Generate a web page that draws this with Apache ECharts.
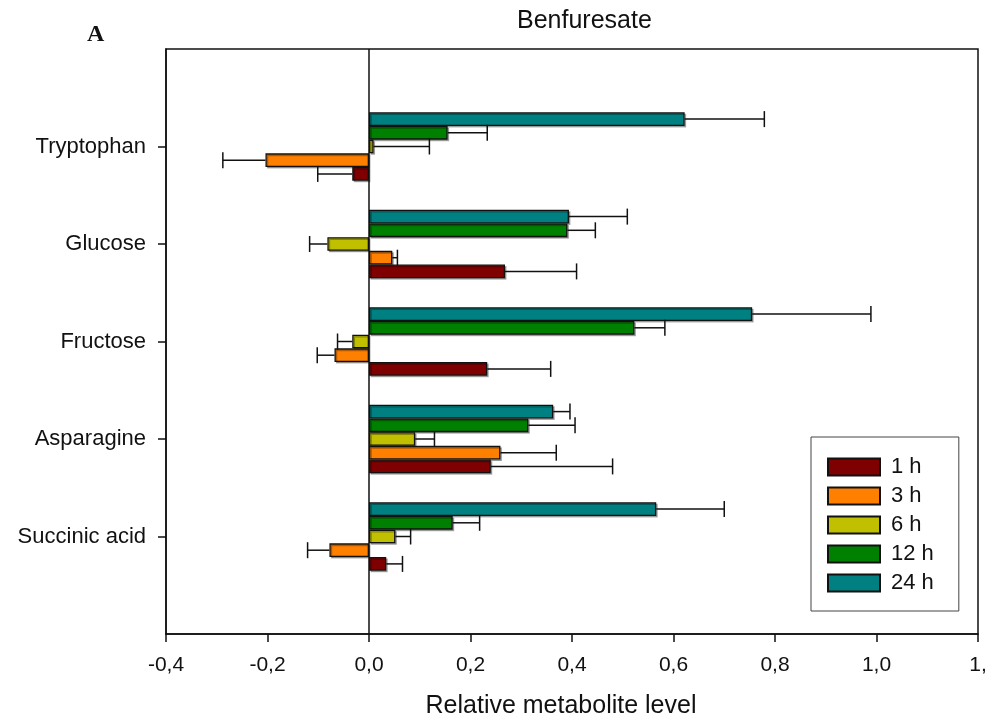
<!DOCTYPE html>
<html>
<head>
<meta charset="utf-8">
<title>Benfuresate</title>
<script src="https://cdn.jsdelivr.net/npm/echarts@6/dist/echarts.min.js"></script>
<style>
    html, body { margin: 0; padding: 0; background: #fff; }
    #main { width: 995px; height: 720px; }
</style>
</head>
<body>
<div id="main"></div>
<script>
// categories, bottom to top
var metabolites = ['Succinic acid', 'Asparagine', 'Fructose', 'Glucose', 'Tryptophan'];
var timeNames = ['1 h', '3 h', '6 h', '12 h', '24 h'];
var timeColors = ['#7f0000', '#ff8000', '#c0c000', '#008000', '#008080'];

// relative levels, same order as metabolites
var level1h = [0.034, 0.240, 0.233, 0.268, -0.033];
var level3h = [-0.078, 0.259, -0.068, 0.046, -0.204];
var level6h = [0.052, 0.091, -0.033, -0.082, 0.009];
var level12h = [0.165, 0.314, 0.523, 0.391, 0.155];
var level24h = [0.566, 0.363, 0.755, 0.394, 0.622];

// error bar lengths (one sided, away from zero)
var err1h = [0.032, 0.240, 0.125, 0.141, 0.068];
var err3h = [0.043, 0.110, 0.034, 0.010, 0.084];
var err6h = [0.030, 0.038, 0.029, 0.035, 0.110];
var err12h = [0.053, 0.092, 0.060, 0.055, 0.078];
var err24h = [0.134, 0.033, 0.234, 0.115, 0.157];

var xTicks = ['-0,4', '-0,2', '0,0', '0,2', '0,4', '0,6', '0,8', '1,0', '1,'];

var levels = [level1h, level3h, level6h, level12h, level24h];
var errors = [err1h, err3h, err6h, err12h, err24h];

var BAR_H = 13.7;
var CAP_H = 16;
var FONT = 'Liberation Sans, Arial, sans-serif';

// empty slot below and above so the groups sit like the original
var yCats = [''].concat(metabolites).concat(['']);

var myChart = echarts.init(document.getElementById('main'), null, { renderer: 'canvas' });

var series = [];
// bars: last time point first so that 24 h ends up on top of each group
for (var k = levels.length - 1; k >= 0; k--) {
    series.push({
        name: timeNames[k],
        type: 'bar',
        data: [null].concat(levels[k]).concat([null]),
        barWidth: BAR_H,
        barGap: '0%',
        itemStyle: {
            color: timeColors[k],
            borderColor: '#111',
            borderWidth: 1.3,
            shadowColor: 'rgba(0,0,0,0.3)',
            shadowOffsetX: 1.5,
            shadowOffsetY: 1.5
        },
        silent: true,
        z: 2
    });
}

levels.forEach(function (vals, k) {
    var errData = vals.map(function (v, i) {
        return [v, i + 1, errors[k][i]];
    });
    series.push({
        type: 'custom',
        data: errData,
        silent: true,
        z: 3,
        renderItem: function (params, api) {
            var v = api.value(0);
            var e = api.value(2);
            var tip = v >= 0 ? v + e : v - e;
            var p0 = api.coord([v, api.value(1)]);
            var p1 = api.coord([tip, api.value(1)]);
            var y = p0[1] - (k - 2) * BAR_H;
            var st = { stroke: '#111', lineWidth: 1.5 };
            return {
                type: 'group',
                children: [
                    { type: 'line', shape: { x1: p0[0], y1: y, x2: p1[0], y2: y }, style: st },
                    { type: 'line', shape: { x1: p1[0], y1: y - CAP_H / 2, x2: p1[0], y2: y + CAP_H / 2 }, style: st }
                ]
            };
        }
    });
});

// zero line
series[0].markLine = {
    silent: true,
    symbol: 'none',
    label: { show: false },
    lineStyle: { color: '#111', width: 1.5, type: 'solid' },
    data: [{ xAxis: 0 }]
};

var option = {
    animation: false,
    backgroundColor: '#fff',
    grid: {
        left: 166, right: 17, top: 49, bottom: 86,
        outerBoundsMode: 'none',
        containLabel: false,
        show: true, borderColor: '#111', borderWidth: 1.5, backgroundColor: 'transparent'
    },
    graphic: [
        { type: 'text', left: 517, top: 9, style: { text: 'Benfuresate', font: '25px ' + FONT, fill: '#111' } },
        { type: 'text', left: 87, top: 23, style: { text: 'A', font: 'bold 24px Liberation Serif, Times New Roman, serif', fill: '#111' } }
    ],
    legend: {
        data: timeNames,
        orient: 'vertical',
        left: 811,
        top: 437,
        icon: 'rect',
        itemWidth: 52,
        itemHeight: 17,
        itemGap: 7,
        padding: [19, 25, 17, 16],
        borderColor: '#444',
        borderWidth: 1,
        backgroundColor: '#fff',
        selectedMode: false,
        textStyle: { fontFamily: FONT, fontSize: 22, color: '#111', padding: [0, 0, 0, 6] }
    },
    xAxis: {
        type: 'value',
        min: -0.4,
        max: 1.2,
        interval: 0.2,
        name: 'Relative metabolite level',
        nameLocation: 'middle',
        nameGap: 60,
        nameTextStyle: { fontFamily: FONT, fontSize: 25, color: '#111', padding: [0, 22, 0, 0] },
        splitLine: { show: false },
        axisLine: { show: true, onZero: false, lineStyle: { color: '#111', width: 1.5 } },
        axisTick: { show: true, length: 8, lineStyle: { color: '#111', width: 1.5 } },
        axisLabel: {
            margin: 21,
            fontFamily: FONT,
            fontSize: 21,
            color: '#111',
            formatter: function (v) {
                return xTicks[Math.round((v + 0.4) / 0.2)];
            }
        }
    },
    yAxis: {
        type: 'category',
        data: yCats,
        boundaryGap: false,
        axisLine: { show: true, onZero: false, lineStyle: { color: '#111', width: 1.5 } },
        axisTick: {
            show: true,
            length: 8,
            interval: function (i) { return i > 0 && i < yCats.length - 1; },
            lineStyle: { color: '#111', width: 1.5 }
        },
        axisLabel: { interval: 0, margin: 20, fontFamily: FONT, fontSize: 22, color: '#111' },
        splitLine: { show: false }
    },
    series: series
};

myChart.setOption(option);
window.addEventListener('resize', myChart.resize);
</script>
</body>
</html>
